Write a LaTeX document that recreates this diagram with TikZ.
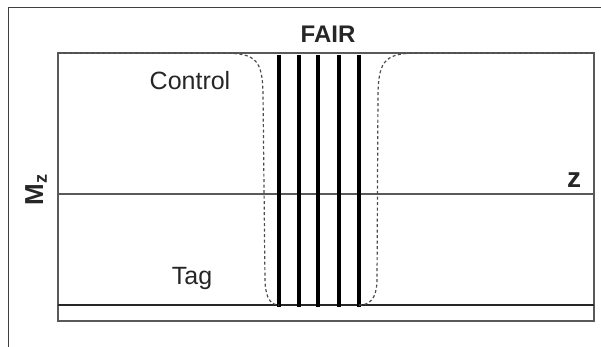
\documentclass[tikz,border=0pt]{standalone}
\usepackage{fontspec}
\setmainfont{Liberation Sans}
\usetikzlibrary{calc}

\begin{document}
\begin{tikzpicture}[x=1pt,y=-1pt,
  thin line/.style={draw=black!65,line width=1.3pt},
  slice/.style={draw=black,line width=3.6pt},
  profile/.style={draw=black!70,line width=1.2pt,dash pattern=on 3pt off 2.5pt},
  label/.style={text=black!85,inner sep=0pt,font=\fontsize{25}{30}\selectfont}]
  \useasboundingbox (0,0) rectangle (601,347);

  \coordinate (F1) at (8,347);
  \coordinate (F2) at (8,8);
  \coordinate (F3) at (601,8);

  \coordinate (TL) at (58,53);
  \coordinate (TR) at (594,53);
  \coordinate (BL) at (58,321);
  \coordinate (BR) at (594,321);
  \coordinate (ML) at (58,194);
  \coordinate (MR) at (594,194);
  \coordinate (GL) at (58,305);
  \coordinate (GR) at (594,305);

  % frame of the figure
  \draw[black!75,line width=1pt] (F1) -- (F2) -- (F3);

  % plot box, axis and tag level
  \path[thin line] (TL) -- (TR) -- (BR) -- (BL) -- cycle;
  \path[thin line] (ML) -- (MR);
  \draw[black!85,line width=2pt] (GL) -- (GR);

  % slices
  \path[slice] (279,55) -- (279,307);
  \path[slice] (299,55) -- (299,307);
  \path[slice] (318,55) -- (318,307);
  \path[slice] (339,55) -- (339,307);
  \path[slice] (359,55) -- (359,307);

  % control profile
  \path[profile] (TL) -- (222,53) .. controls (256,53) and (262,60) .. (263,92)
    -- (265,282) .. controls (266,299) and (271,305) .. (279,305);
  \path[profile] (359,305) .. controls (370,305) and (376,299) .. (377,282)
    -- (378,92) .. controls (379,60) and (386,53) .. (418,53) -- (TR);

  \node[label,font=\fontsize{24}{29}\selectfont\bfseries] (fair) at (328,34) {FAIR};
  \node[label] (control) at (190,81) {Control};
  \node[label] (tag) at (192,278) {Tag};
  \node[label,rotate=90,font=\fontsize{26}{30}\selectfont] (mz) at (36,190) {\textbf{M}$_{\mathbf{z}}$};
  \node[label,font=\fontsize{28}{32}\selectfont\bfseries] (z) at (574,180) {z};
\end{tikzpicture}
\end{document}
